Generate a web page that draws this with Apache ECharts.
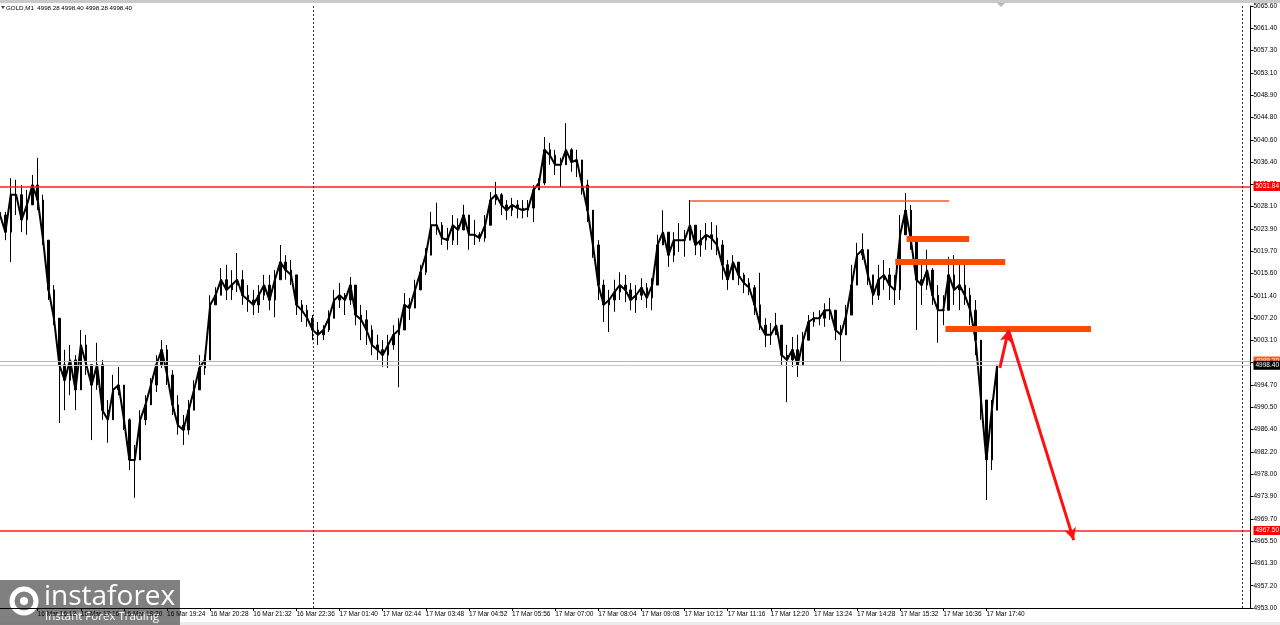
<!DOCTYPE html>
<html><head><meta charset="utf-8">
<script src="https://cdn.jsdelivr.net/npm/echarts@6/dist/echarts.min.js"></script>
<style>html,body{margin:0;padding:0;background:#fff}#c{width:1280px;height:625px}</style>
</head><body><div id="c"></div>
<script>
// ---------- DATA ----------
const symbolTitle = 'GOLD,M1  4998.28 4998.40 4998.28 4998.40';
const timeLabels = ['16 Mar 16:12','16 Mar 17:16','16 Mar 18:20','16 Mar 19:24','16 Mar 20:28','16 Mar 21:32','16 Mar 22:36','17 Mar 01:40','17 Mar 02:44','17 Mar 03:48','17 Mar 04:52','17 Mar 05:56','17 Mar 07:00','17 Mar 08:04','17 Mar 09:08','17 Mar 10:12','17 Mar 11:16','17 Mar 12:20','17 Mar 13:24','17 Mar 14:28','17 Mar 15:32','17 Mar 16:36','17 Mar 17:40'];
const yTickLabels = ['4953.00','4957.20','4961.30','4965.50','4969.70','4973.90','4978.00','4982.20','4986.40','4990.50','4994.70','4998.90','5003.10','5007.20','5011.40','5015.60','5019.70','5023.90','5028.10','5032.20','5036.40','5040.60','5044.80','5048.90','5053.10','5057.30','5061.40','5065.60'];
const highs = [5029.3,5027.1,5033.4,5033.1,5032.1,5031.2,5034.0,5037.2,5030.3,5021.8,5013.4,5006.9,5001.3,5002.2,5000.3,5005.0,5004.1,4997.5,5002.6,4999.4,4991.9,4996.6,4998.1,4994.1,4988.5,4983.5,4990.0,4992.8,4996.0,5000.3,5003.1,5002.2,4997.5,4992.8,4989.1,4991.9,4995.6,5000.3,5000.3,5011.5,5013.0,5016.6,5017.2,5016.2,5019.4,5016.2,5013.4,5012.5,5013.4,5015.3,5015.3,5016.2,5020.9,5019.0,5018.1,5014.4,5010.6,5009.7,5007.8,5006.5,5005.9,5008.7,5012.5,5013.8,5011.9,5014.9,5013.4,5009.7,5008.7,5005.9,5004.1,5003.1,5004.1,5005.9,5007.2,5011.9,5011.0,5014.4,5017.2,5020.3,5027.1,5028.8,5025.2,5024.1,5026.5,5025.9,5028.4,5026.5,5025.6,5023.3,5026.5,5030.8,5032.7,5030.6,5029.3,5029.7,5029.3,5029.3,5029.3,5032.1,5033.4,5041.1,5040.0,5038.7,5037.2,5043.7,5039.0,5038.7,5036.8,5033.1,5027.1,5021.8,5014.4,5012.5,5014.4,5015.8,5015.3,5013.8,5013.4,5014.7,5013.8,5014.7,5022.8,5027.4,5023.3,5023.3,5025.0,5023.7,5029.3,5024.6,5023.7,5025.0,5025.2,5024.6,5021.8,5018.1,5019.0,5017.7,5015.7,5014.7,5013.4,5015.7,5007.2,5006.3,5008.2,5005.4,5002.2,5003.7,5004.1,5004.6,5007.8,5008.4,5008.7,5010.0,5011.0,5007.8,5005.9,5009.7,5017.2,5021.3,5023.1,5019.0,5013.8,5017.2,5018.1,5016.6,5015.3,5026.5,5030.6,5028.4,5021.8,5017.7,5020.0,5016.6,5013.4,5011.5,5018.7,5019.0,5017.2,5017.2,5012.9,5010.6,5001.3,4991.9,4991.9,4998.5];
const lows = [5025.6,5021.8,5017.7,5026.5,5023.3,5022.8,5028.4,5027.4,5020.9,5010.6,5005.9,4987.6,4990.0,4992.8,4990.0,4993.8,4996.6,4984.4,4993.8,4988.2,4983.9,4988.2,4992.8,4986.3,4978.8,4973.6,4981.6,4987.2,4991.0,4993.4,4997.9,4994.7,4989.1,4985.4,4983.5,4985.4,4990.0,4994.7,4996.6,4999.4,5009.7,5011.5,5010.6,5010.6,5012.1,5009.7,5008.4,5007.8,5008.2,5010.6,5008.7,5007.4,5015.3,5014.4,5013.4,5007.8,5006.5,5005.6,5003.1,5002.2,5003.1,5004.6,5007.8,5009.1,5007.8,5009.7,5005.9,5003.1,5002.2,5000.3,4999.4,4998.1,4997.9,5001.3,4994.3,5005.0,5006.9,5009.7,5012.5,5015.3,5019.0,5022.8,5020.9,5020.0,5020.9,5020.9,5023.7,5020.0,5020.9,5021.5,5021.5,5025.2,5028.4,5026.5,5025.6,5026.3,5025.9,5025.9,5026.1,5025.2,5031.2,5032.1,5035.9,5034.0,5031.7,5035.9,5034.6,5033.6,5030.3,5025.2,5018.5,5010.6,5006.5,5004.6,5008.4,5010.6,5010.2,5008.7,5008.2,5010.6,5009.1,5008.7,5013.4,5020.9,5016.8,5017.7,5019.6,5018.7,5021.8,5019.0,5018.7,5020.0,5020.0,5019.0,5014.4,5012.5,5014.4,5013.4,5011.9,5011.5,5007.8,5005.0,5001.8,5002.2,5004.1,4998.5,4991.5,4998.1,4996.2,4998.5,5003.1,5005.6,5005.9,5005.6,5006.9,5003.1,4999.0,5005.0,5009.7,5015.8,5018.1,5013.4,5009.7,5010.6,5012.5,5010.6,5009.7,5010.6,5022.8,5020.0,5005.0,5009.7,5012.5,5009.7,5002.6,5005.9,5008.7,5009.7,5008.7,5009.7,5005.9,5000.3,4988.2,4973.2,4978.8,4990.0];
const closes = [5026.5,5023.3,5030.3,5030.3,5025.6,5028.4,5032.1,5029.3,5021.8,5012.5,5007.2,4998.5,4995.6,4999.4,4993.8,5002.2,4998.5,4994.7,4998.5,4990.0,4988.2,4993.8,4994.7,4988.2,4980.7,4980.7,4988.2,4991.0,4994.7,4998.5,5001.3,4996.6,4991.0,4987.2,4986.3,4990.0,4993.8,4997.9,4999.4,5009.7,5011.5,5014.4,5012.5,5013.4,5014.4,5011.5,5010.6,5009.7,5011.5,5013.4,5010.6,5014.4,5017.7,5016.2,5015.3,5009.7,5008.7,5007.2,5005.0,5004.1,5005.0,5007.2,5010.6,5011.5,5010.6,5013.4,5007.8,5006.9,5005.0,5002.2,5001.3,5000.3,5002.2,5004.1,5005.0,5009.7,5009.1,5012.5,5015.8,5019.0,5024.6,5024.6,5022.2,5021.8,5024.6,5023.7,5026.5,5022.8,5022.8,5022.2,5024.6,5029.3,5030.3,5028.4,5027.4,5028.4,5027.8,5027.4,5027.8,5031.2,5032.5,5038.7,5037.7,5035.9,5035.9,5038.7,5036.4,5036.8,5032.1,5027.4,5020.9,5013.4,5009.7,5010.6,5012.1,5013.4,5012.5,5010.6,5011.5,5012.9,5011.0,5013.4,5020.9,5023.3,5019.0,5021.8,5021.8,5021.8,5024.6,5020.9,5021.8,5022.8,5022.2,5020.9,5017.2,5014.4,5017.7,5015.3,5013.8,5012.9,5009.7,5005.9,5004.1,5004.1,5005.9,5000.3,4999.4,5001.3,4998.5,5003.1,5006.5,5007.2,5007.2,5008.7,5008.7,5005.0,5004.1,5007.8,5013.4,5019.0,5020.0,5015.3,5011.5,5014.4,5015.3,5013.4,5012.5,5022.8,5027.4,5021.8,5014.4,5013.4,5016.2,5011.5,5008.7,5008.7,5015.3,5012.5,5013.4,5011.5,5008.7,5003.1,4991.9,4980.7,4990.0,4998.4];
const firstOpen = 5027.0;
// horizontal levels
const resistanceLevel = 5031.84;
const supportLevel = 4967.50;
const bidPrice = 4998.40;
const askLinePrice = 4999.2;
// drawn objects: [x1Index, x2Index, price]
const thinLevel = [128, 176.1, 5029.1];
const thickLevels = [[168.2, 179.8, 5022.1], [166.1, 186.5, 5017.8], [175.4, 202.4, 5005.2]];
// arrow path points [xIndex, price]
const arrowPath = [[185.5, 4997.9], [187.1, 5005.0], [199.2, 4965.7]];
const separators = [58.1, 230.5];

// ---------- BUILD ----------
const N = 233, labelStart = 7, labelStep = 8;
const categories = new Array(N).fill('');
timeLabels.forEach((t, k) => { categories[labelStart + k * labelStep] = t; });
const candles = closes.map((c, i) => {
  const o = i === 0 ? firstOpen : closes[i - 1];
  return [o, c, lows[i], highs[i]];
});
const yMin = 4953.0, yMax = 5065.6, yStep = (yMax - yMin) / 27;
const fontFam = 'Liberation Sans, Arial, sans-serif';
const lbl = (txt, bg) => ({
  show: true, position: 'end', formatter: txt, distance: 3,
  color: '#fff', backgroundColor: bg, fontSize: 6.5, fontFamily: fontFam,
  padding: [1, 2, 1, 2]
});

const chart = echarts.init(document.getElementById('c'), null, { renderer: 'canvas' });
chart.setOption({
  animation: false,
  backgroundColor: '#fff',
  title: { text: symbolTitle, left: 6, top: 5, padding: 0,
    textStyle: { fontSize: 6.2, fontWeight: 'normal', color: '#000', fontFamily: fontFam } },
  grid: { left: 0, right: 26, top: 6, bottom: 17 },
  xAxis: [{
    type: 'category', data: categories, boundaryGap: false,
    axisLine: { show: true, onZero: false, lineStyle: { color: '#000', width: 1 } },
    axisTick: { show: true, length: 3, interval: (i) => categories[i] !== '', lineStyle: { color: '#000' } },
    axisLabel: { interval: (i) => categories[i] !== '', align: 'left', margin: 3,
      fontSize: 6.5, color: '#000', fontFamily: fontFam },
    splitLine: { show: false }
  }, {
    type: 'value', min: 0, max: N - 1, show: false
  }],
  yAxis: {
    type: 'value', position: 'right', min: yMin, max: yMax, interval: yStep,
    axisLine: { show: true, onZero: false, lineStyle: { color: '#000', width: 1 } },
    axisTick: { show: true, length: 3, lineStyle: { color: '#000' } },
    axisLabel: { margin: 3, fontSize: 6.5, color: '#000', fontFamily: fontFam,
      showMinLabel: true, showMaxLabel: true,
      formatter: (v) => { const k = Math.round((v - yMin) / yStep); return yTickLabels[k] || ''; } },
    splitLine: { show: false }
  },
  series: [{
    type: 'line', data: closes, showSymbol: false, symbol: 'none', silent: true,
    lineStyle: { color: '#000', width: 2 }, z: 3
  }, {
    type: 'candlestick', data: candles, barWidth: 2, z: 3,
    itemStyle: { color: '#000', color0: '#000', borderColor: '#000', borderColor0: '#000', borderWidth: 1 },
    markLine: {
      silent: true, symbol: ['none', 'none'], animation: false,
      data: [
        { yAxis: askLinePrice, lineStyle: { color: '#ffa27a', width: 1, type: 'solid' }, label: lbl(askLinePrice.toFixed(2), '#ff5a1f') },
        { yAxis: bidPrice, lineStyle: { color: '#c8c8c8', width: 1, type: 'solid' }, label: lbl(bidPrice.toFixed(2), '#000') },
        { yAxis: resistanceLevel, lineStyle: { color: '#ff2020', width: 1.5, type: 'solid' }, label: lbl(resistanceLevel.toFixed(2), '#ff0000') },
        { yAxis: supportLevel, lineStyle: { color: '#ff2020', width: 1.5, type: 'solid' }, label: lbl(supportLevel.toFixed(2), '#ff0000') }
      ]
    }
  }, {
    type: 'line', xAxisIndex: 1, data: [], silent: true,
    markLine: {
      silent: true, animation: false, symbol: ['none', 'none'], label: { show: false },
      data: [
        ...separators.map(s => [{ coord: [s, yMin], lineStyle: { color: '#333', width: 1, type: [2, 2] } }, { coord: [s, yMax] }]),
        [{ coord: [thinLevel[0], thinLevel[2]], lineStyle: { color: '#ff5a1f', width: 1.5, type: 'solid' } }, { coord: [thinLevel[1], thinLevel[2]] }],
        ...thickLevels.map(t => [{ coord: [t[0], t[2]], lineStyle: { color: '#ff4a00', width: 6, type: 'solid', cap: 'butt' } }, { coord: [t[1], t[2]] }])
      ]
    }
  }, {
    type: 'line', xAxisIndex: 1, data: [], silent: true,
    markLine: {
      silent: true, animation: false, symbol: ['none', 'arrow'], symbolSize: [9, 12], label: { show: false },
      data: [
        [{ coord: arrowPath[0], lineStyle: { color: '#ff1010', width: 3, type: 'solid' } }, { coord: arrowPath[1] }],
        [{ coord: arrowPath[1], lineStyle: { color: '#ff1010', width: 3, type: 'solid' } }, { coord: arrowPath[2] }]
      ]
    }
  }],
  graphic: [
    { type: 'rect', left: 0, top: 0, shape: { width: 1280, height: 3 }, style: { fill: '#c9c9c9' }, silent: true },
    { type: 'polygon', shape: { points: [[997, 3], [1005, 3], [1001, 7]] }, style: { fill: '#b8b8b8' }, silent: true },
    { type: 'polygon', shape: { points: [[1, 6], [5, 6], [3, 9]] }, style: { fill: '#444' }, silent: true },
    { type: 'rect', left: 0, top: 622, shape: { width: 1280, height: 3 }, style: { fill: '#ececec' }, silent: true },
    { type: 'group', left: 0, top: 580, children: [
      { type: 'rect', shape: { x: 0, y: 0, width: 180, height: 45 }, style: { fill: 'rgba(110,110,110,0.88)' } },
      { type: 'circle', shape: { cx: 24, cy: 21, r: 12 }, style: { fill: 'none', stroke: '#fff', lineWidth: 5 } },
      { type: 'circle', shape: { cx: 24, cy: 21, r: 4 }, style: { fill: '#fff' } },
      { type: 'text', style: { x: 44, y: 3, text: 'instaforex', fill: '#fff', fontSize: 28, fontFamily: 'Open Sans, Liberation Sans, sans-serif' } },
      { type: 'text', style: { x: 45, y: 31, text: 'Instant Forex Trading', fill: '#fff', fontSize: 11.5, fontFamily: 'Open Sans, Liberation Sans, sans-serif' } }
    ] }
  ]
});
</script></body></html>
